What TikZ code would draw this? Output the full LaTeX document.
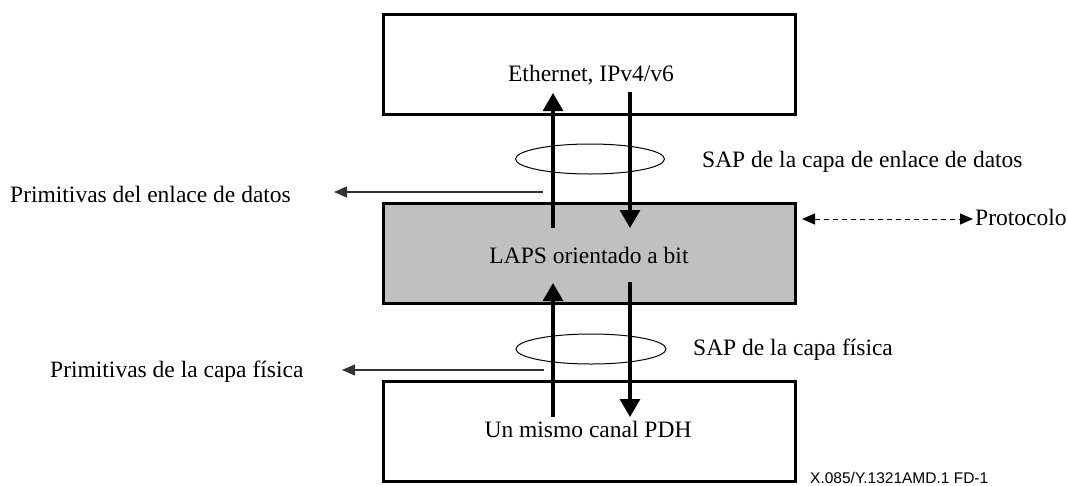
\documentclass[tikz,border=0pt]{standalone}
\usepackage{fontspec}
\setmainfont{Liberation Serif}
\setsansfont{Liberation Sans}
\usetikzlibrary{arrows.meta,shapes.geometric}
\definecolor{boxgrey}{RGB}{192,192,192}
\begin{document}
\begin{tikzpicture}[x=1pt,y=-1pt,
  layerbox/.style={draw=black,line width=3pt,minimum width=412pt,minimum height=100pt,inner sep=0pt},
  lbl/.style={font=\fontsize{23.5}{28}\selectfont,inner sep=0pt,anchor=base},
  thick arrow/.style={line width=3.2pt,-{Triangle[width=20pt,length=18pt]}},
  thin arrow/.style={draw=black!80,line width=1.2pt,-{Triangle[width=11pt,length=13pt]}},
  sap/.style={draw=black,line width=1pt}]
\useasboundingbox (0,0) rectangle (1067,485);
% boxes
\node[layerbox] (top) at (589,64) {};
\node[layerbox,fill=boxgrey] (mid) at (589,253.5) {};
\node[layerbox] (bot) at (589,431) {};
% texts in boxes
\node[lbl] (teth) at (591,81) {Ethernet, IPv4/v6};
\node[lbl] (tlaps) at (589,263) {LAPS orientado a bit};
\node[lbl] (tpdh) at (588,437) {Un mismo canal PDH};
% SAP ellipses
\node[sap,ellipse,minimum width=149pt,minimum height=30pt,inner sep=0pt] (sap1) at (590,159) {};
\node[sap,ellipse,minimum width=150pt,minimum height=30pt,inner sep=0pt] (sap2) at (591,349) {};
% vertical arrows
\coordinate (u1s) at (553,228); \coordinate (u1e) at (553,93);
\coordinate (d1s) at (630,92);  \coordinate (d1e) at (630,228);
\coordinate (u2s) at (553,417); \coordinate (u2e) at (553,283);
\coordinate (d2s) at (630,282); \coordinate (d2e) at (630,417);
\draw[thick arrow] (u1s) -- (u1e);
\draw[thick arrow] (d1s) -- (d1e);
\draw[thick arrow] (u2s) -- (u2e);
\draw[thick arrow] (d2s) -- (d2e);
% side labels
\node[lbl,anchor=base west] (prim1) at (10,202) {Primitivas del enlace de datos};
\node[lbl,anchor=base west] (prim2) at (50,377) {Primitivas de la capa física};
\coordinate (p1s) at (543,192); \coordinate (p1e) at (334,192);
\coordinate (p2s) at (544,370); \coordinate (p2e) at (342,370);
\draw[thin arrow] (p1s) -- (p1e);
\draw[thin arrow] (p2s) -- (p2e);
\node[lbl,anchor=base west] (sapt1) at (702,167) {SAP de la capa de enlace de datos};
\node[lbl,anchor=base west] (sapt2) at (693,355) {SAP de la capa física};
% protocol
\node[lbl,anchor=base west] (proto) at (975,225) {Protocolo};
\coordinate (pr1) at (802,219);
\draw[draw=black,line width=1pt,dash pattern=on 5pt off 4pt,shorten >=2pt,{Triangle[width=11pt,length=13pt]}-{Triangle[width=11pt,length=13pt]}] (pr1) -- (proto.west |- pr1);
% figure id
\node[font=\sffamily\fontsize{15.5}{18}\selectfont,inner sep=0pt,anchor=base west] (fid) at (810,483) {X.085/Y.1321AMD.1 FD-1};
\end{tikzpicture}
\end{document}
